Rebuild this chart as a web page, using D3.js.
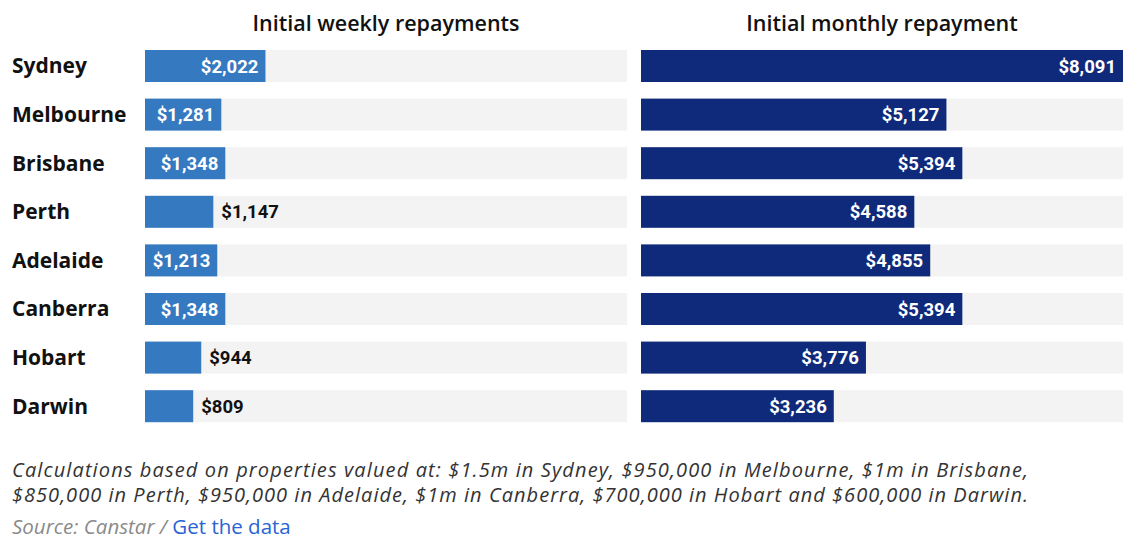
<!DOCTYPE html>
<html>
<head>
<meta charset="utf-8">
<script src="https://cdn.jsdelivr.net/npm/d3@7"></script>
<style>
  body { margin: 0; background: #fff; }
  svg { display: block; }
</style>
</head>
<body>
<div id="chart"></div>
<script>
// data
const cities = ["Sydney", "Melbourne", "Brisbane", "Perth", "Adelaide", "Canberra", "Hobart", "Darwin"];
const weekly = [2022, 1281, 1348, 1147, 1213, 1348, 944, 809];
const monthly = [8091, 5127, 5394, 4588, 4855, 5394, 3776, 3236];
const panelTitles = ["Initial weekly repayments", "Initial monthly repayment"];
const noteLines = [
  "Calculations based on properties valued at: $1.5m in Sydney, $950,000 in Melbourne, $1m in Brisbane,",
  "$850,000 in Perth, $950,000 in Adelaide, $1m in Canberra, $700,000 in Hobart and $600,000 in Darwin."
];

const W = 1138, H = 550;
const font = "'Open Sans', sans-serif";
const numFont = "Roboto, sans-serif";

const svg = d3.select("#chart").append("svg")
  .attr("width", W)
  .attr("height", H);

// both panels share one scale (bars are comparable across them)
const maxVal = d3.max(weekly.concat(monthly));
const panelW = 482;
const x = d3.scaleLinear().domain([0, maxVal]).range([0, panelW]);

const rowStep = 48.6, barH = 32;
const y = d3.scaleBand()
  .domain(cities)
  .range([50, 50 + rowStep * (cities.length - 1) + barH])
  .paddingInner((rowStep - barH) / rowStep)
  .paddingOuter(0);

// row labels
svg.selectAll(".city")
  .data(cities)
  .enter().append("text")
  .attr("class", "city")
  .attr("x", 12)
  .attr("y", d => y(d) + y.bandwidth() / 2)
  .attr("dy", "0.35em")
  .attr("font-family", font)
  .attr("font-weight", 700)
  .attr("font-size", 21)
  .attr("fill", "#111")
  .text(d => d);

const panels = [
  { x0: 145, values: weekly, color: "#3579c1", title: panelTitles[0] },
  { x0: 641, values: monthly, color: "#0f2a7b", title: panelTitles[1] }
];

// short bars get their label outside
const minInside = 70;

panels.forEach(p => {
  const g = svg.append("g").attr("transform", `translate(${p.x0},0)`);

  g.append("text")
    .attr("x", panelW / 2)
    .attr("y", 31)
    .attr("text-anchor", "middle")
    .attr("font-family", font)
    .attr("font-weight", 600)
    .attr("font-size", 21.5)
    .attr("fill", "#111")
    .text(p.title);

  // grey track
  g.selectAll(".track")
    .data(cities)
    .enter().append("rect")
    .attr("class", "track")
    .attr("x", 0)
    .attr("y", d => y(d))
    .attr("width", panelW)
    .attr("height", y.bandwidth())
    .attr("fill", "#f3f3f3");

  const rows = cities.map((c, i) => ({ city: c, value: p.values[i] }));

  g.selectAll(".bar")
    .data(rows)
    .enter().append("rect")
    .attr("class", "bar")
    .attr("x", 0)
    .attr("y", d => y(d.city))
    .attr("width", d => x(d.value))
    .attr("height", y.bandwidth())
    .attr("fill", p.color);

  g.selectAll(".val")
    .data(rows)
    .enter().append("text")
    .attr("class", "val")
    .attr("y", d => y(d.city) + y.bandwidth() / 2)
    .attr("dy", "0.36em")
    .attr("font-family", numFont)
    .attr("font-weight", 700)
    .attr("font-size", 18.5)
    .text(d => "$" + d3.format(",")(d.value))
    .each(function (d) {
      const tw = this.getComputedTextLength();
      const bw = x(d.value);
      const t = d3.select(this);
      if (bw >= minInside && bw >= tw + 12) {
        t.attr("x", bw - 7).attr("text-anchor", "end").attr("fill", "#fff");
      } else {
        t.attr("x", bw + 8).attr("text-anchor", "start").attr("fill", "#111");
      }
    });
});

// footnote
svg.selectAll(".note")
  .data(noteLines)
  .enter().append("text")
  .attr("class", "note")
  .attr("x", 12)
  .attr("y", (d, i) => 477 + i * 25)
  .attr("font-family", font)
  .attr("font-style", "italic")
  .attr("font-size", 20)
  .attr("fill", "#333")
  .attr("textLength", 1016)
  .attr("lengthAdjust", "spacing")
  .text(d => d);

const src = svg.append("text")
  .attr("x", 12)
  .attr("y", 534)
  .attr("font-family", font)
  .attr("font-size", 20.5);
src.append("tspan")
  .attr("font-style", "italic")
  .attr("fill", "#8a8a8a")
  .text("Source: Canstar / ");
src.append("tspan")
  .attr("fill", "#2a63d4")
  .text("Get the data");
</script>
</body>
</html>
